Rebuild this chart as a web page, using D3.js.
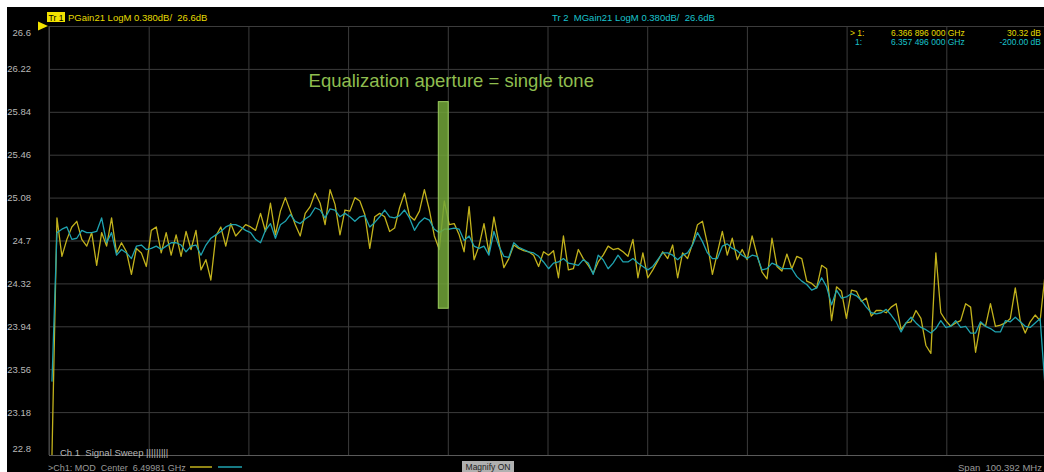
<!DOCTYPE html>
<html><head><meta charset="utf-8">
<script src="https://cdn.jsdelivr.net/npm/d3@7"></script>
<style>
html,body{margin:0;padding:0;background:#fff;}
svg{display:block;}
text{font-family:"Liberation Sans",Arial,sans-serif;}
</style></head><body>
<svg id="c" width="1044" height="472"></svg>
<script>
// ---- data ----
const yTickValues = [26.6, 26.22, 25.84, 25.46, 25.08, 24.7, 24.32, 23.94, 23.56, 23.18, 22.8];
const yTickLabels = ["26.6", "26.22", "25.84", "25.46", "25.08", "24.7", "24.32", "23.94", "23.56", "23.18", "22.8"];
const centerGHz = 6.49981;
const spanMHz = 100.392;
const sweepOffsetMHz = 0.3;
const sweepStepMHz = 0.5;
const tr1Label = "PGain21 LogM 0.380dB/  26.6dB";
const tr2Label = "MGain21 LogM 0.380dB/  26.6dB";
const markerRows = [
  {id: "> 1:", freq: "6.366 896 000 GHz", val: "30.32 dB"},
  {id: "1:", freq: "6.357 496 000 GHz", val: "-200.00 dB"}
];
const annotationText = "Equalization aperture = single tone";
const apertureMHz = [39.2, 40.2];
const apertureDb = [25.93, 24.10];

// Tr 1 (yellow, PGain21) in dB
const tr1Values = [
22.80,24.90,24.56,24.71,24.82,24.87,24.71,24.65,24.77,24.48,
24.77,24.65,24.90,24.59,24.68,24.60,24.40,24.63,24.59,24.47,
24.79,24.82,24.59,24.77,24.57,24.75,24.56,24.78,24.62,24.79,
24.44,24.53,24.35,24.74,24.82,24.65,24.85,24.74,24.79,24.84,
24.82,24.79,24.94,24.78,25.03,24.75,24.96,25.08,24.96,24.84,
24.74,24.94,25.00,25.12,25.03,24.84,25.15,25.02,24.75,24.97,
24.96,25.08,25.05,24.93,24.63,24.91,24.94,24.91,24.78,24.81,
24.99,25.12,24.92,24.88,24.96,25.15,24.97,24.74,24.62,25.05,
24.84,24.85,24.75,24.60,25.00,24.53,24.65,24.85,24.59,24.91,
24.68,24.46,24.54,24.66,24.63,24.61,24.60,24.57,24.47,24.60,
24.57,24.61,24.37,24.74,24.44,24.45,24.62,24.54,24.48,24.41,
24.51,24.57,24.65,24.62,24.63,24.60,24.56,24.71,24.37,24.59,
24.37,24.44,24.52,24.60,24.54,24.66,24.37,24.59,24.54,24.67,
24.84,24.87,24.67,24.40,24.59,24.78,24.57,24.72,24.53,24.62,
24.53,24.74,24.57,24.42,24.36,24.72,24.47,24.43,24.58,24.45,
24.56,24.54,24.34,24.32,24.28,24.48,24.45,23.99,24.29,24.25,
24.01,24.26,24.25,24.16,24.19,24.03,24.08,24.08,24.06,24.11,
24.14,23.91,23.97,23.98,24.08,24.01,23.77,23.70,24.59,24.06,
23.99,23.94,23.97,23.99,24.14,24.11,23.71,23.97,23.94,24.14,
23.94,23.95,23.97,24.01,24.28,23.99,23.88,23.98,24.04,23.99,
24.40
];
// Tr 2 (cyan, MGain21) in dB
const tr2Values = [
23.45,24.77,24.80,24.82,24.71,24.72,24.79,24.77,24.77,24.78,
24.90,24.68,24.77,24.57,24.62,24.59,24.54,24.65,24.66,24.62,
24.63,24.65,24.62,24.65,24.68,24.68,24.66,24.60,24.65,24.66,
24.57,24.66,24.72,24.75,24.78,24.82,24.84,24.84,24.82,24.79,
24.77,24.71,24.68,24.79,24.85,24.72,24.84,24.87,24.93,24.87,
24.85,24.89,24.92,24.99,24.97,24.90,24.98,24.97,24.91,24.94,
24.91,24.87,24.91,24.92,24.82,24.86,24.91,24.97,24.91,24.90,
24.92,24.97,24.90,24.79,24.86,24.90,24.88,24.80,24.77,24.80,
24.80,24.81,24.80,24.70,24.74,24.65,24.63,24.65,24.57,24.78,
24.65,24.56,24.55,24.68,24.64,24.62,24.60,24.59,24.56,24.51,
24.45,24.50,24.51,24.54,24.50,24.49,24.48,24.53,24.50,24.40,
24.57,24.53,24.45,24.50,24.57,24.51,24.51,24.54,24.50,24.47,
24.44,24.47,24.53,24.59,24.59,24.57,24.53,24.57,24.59,24.66,
24.77,24.69,24.59,24.54,24.54,24.65,24.67,24.63,24.61,24.57,
24.54,24.57,24.56,24.44,24.45,24.50,24.48,24.45,24.45,24.45,
24.38,24.34,24.31,24.26,24.28,24.37,24.29,24.13,24.26,24.19,
24.20,24.23,24.21,24.17,24.11,24.06,24.05,24.06,24.09,24.04,
23.98,23.89,23.97,24.02,23.97,23.93,23.91,23.88,23.92,23.99,
23.93,23.94,23.99,23.93,23.94,23.88,23.88,23.98,23.94,23.92,
23.89,23.89,23.99,23.98,24.02,23.98,23.94,23.93,23.97,24.01,
23.40
];

// ---- drawing ----
const svg = d3.select("#c");
const W = 1044, H = 472;
const plot = {left: 49, right: 1046, top: 26, bottom: 455};
const fStartMHz = centerGHz * 1000 - spanMHz / 2;
const fStopMHz = centerGHz * 1000 + spanMHz / 2;
const freqMHz = tr1Values.map((_, i) => fStartMHz + sweepOffsetMHz + i * sweepStepMHz);

const x = d3.scaleLinear().domain([fStartMHz, fStopMHz]).range([plot.left, plot.right]);
const y = d3.scaleLinear().domain([22.8, 26.6]).range([plot.bottom, plot.top]);

svg.append("rect").attr("x", 7).attr("y", 7).attr("width", W - 7).attr("height", H - 7).attr("fill", "#000");

// vertical grid
const xGridVals = d3.range(11).map(k => fStartMHz + k * spanMHz / 10);
const gx = svg.append("g").attr("transform", `translate(0,${plot.bottom})`)
  .call(d3.axisBottom(x).tickValues(xGridVals).tickSize(-(plot.bottom - plot.top)).tickFormat(""));
gx.select(".domain").remove();
gx.selectAll(".tick line").attr("stroke", "#3c3c3c").attr("stroke-width", 1);

// horizontal grid + labels
const gy = svg.append("g").attr("transform", `translate(${plot.left},0)`)
  .call(d3.axisLeft(y).tickValues(yTickValues).tickSize(-(plot.right - plot.left))
    .tickFormat((d, i) => yTickLabels[i]).tickPadding(18));
gy.select(".domain").remove();
gy.selectAll(".tick line").attr("stroke", (d, i) => (i === yTickValues.length - 1 ? "#5a5a5a" : "#3c3c3c")).attr("stroke-width", 1);
gy.selectAll(".tick text").attr("fill", "#b8b8b8").attr("font-size", 9.5)
  .attr("font-family", "Liberation Sans, Arial, sans-serif")
  .attr("dy", (d, i) => i === 0 ? "0.95em" : (i === yTickValues.length - 1 ? "-0.4em" : "0.32em"));
// left border
svg.append("line").attr("x1", plot.left).attr("x2", plot.left).attr("y1", plot.top).attr("y2", plot.bottom)
  .attr("stroke", "#4a4a4a");

// reference triangle
const yr = y(26.6);
svg.append("path").attr("d", `M38,${yr - 4.5}L48,${yr}L38,${yr + 4.5}Z`).attr("fill", "#f2e200");

// traces
const line = d3.line().x((d, i) => x(freqMHz[i])).y(d => y(d));
svg.append("path").datum(tr1Values).attr("d", line).attr("fill", "none")
  .attr("stroke", "#c2b21c").attr("stroke-width", 1.3).attr("stroke-linejoin", "round");
svg.append("path").datum(tr2Values).attr("d", line).attr("fill", "none")
  .attr("stroke", "#1fa3b0").attr("stroke-width", 1.3).attr("stroke-linejoin", "round");

// header
svg.append("rect").attr("x", 47).attr("y", 12).attr("width", 18).attr("height", 10).attr("fill", "#f2e200");
svg.append("text").attr("x", 56).attr("y", 20.5).attr("text-anchor", "middle").attr("font-size", 8.5).attr("fill", "#000")
  .attr("xml:space", "preserve").text("Tr 1");
svg.append("text").attr("x", 68).attr("y", 20.5).attr("font-size", 9.5).attr("fill", "#e6dc00")
  .attr("xml:space", "preserve").text(tr1Label);
svg.append("text").attr("x", 552).attr("y", 20.5).attr("font-size", 9.5).attr("fill", "#19c3cc")
  .attr("xml:space", "preserve").text("Tr 2  " + tr2Label);

// marker readout
const mColors = ["#e6dc00", "#19c3cc"];
markerRows.forEach((r, i) => {
  const yy = 36 + i * 9;
  svg.append("text").attr("x", i === 0 ? 850 : 855).attr("y", yy).attr("font-size", 8.5).attr("fill", mColors[i]).text(r.id);
  svg.append("text").attr("x", 891).attr("y", yy).attr("font-size", 8.5).attr("fill", mColors[i]).text(r.freq);
  svg.append("text").attr("x", 1041).attr("y", yy).attr("font-size", 8.5).attr("fill", mColors[i])
    .attr("text-anchor", "end").text(r.val);
});

// annotation
svg.append("text").attr("x", (x(fStartMHz + apertureMHz[0]) + x(fStartMHz + apertureMHz[1])) / 2 + 8).attr("y", 87)
  .attr("text-anchor", "middle").attr("font-size", 18.5).attr("fill", "#8fbd4f")
  .attr("font-family", "Liberation Sans, sans-serif").text(annotationText);
svg.append("rect")
  .attr("x", x(fStartMHz + apertureMHz[0])).attr("width", x(fStartMHz + apertureMHz[1]) - x(fStartMHz + apertureMHz[0]))
  .attr("y", y(apertureDb[0])).attr("height", y(apertureDb[1]) - y(apertureDb[0]))
  .attr("fill", "#72a638").attr("fill-opacity", 0.85).attr("stroke", "#9ccc5e").attr("stroke-width", 1);

// bottom texts
svg.append("text").attr("x", 60).attr("y", 456).attr("font-size", 9.5).attr("fill", "#b8b8b8")
  .attr("xml:space", "preserve").text("Ch 1  Signal Sweep |||||||||");
svg.append("text").attr("x", 48).attr("y", 471).attr("font-size", 9).attr("fill", "#9a9a9a")
  .attr("xml:space", "preserve").text(">Ch1: MOD  Center  " + centerGHz + " GHz");
svg.append("line").attr("x1", 190).attr("x2", 212).attr("y1", 467).attr("y2", 467).attr("stroke", "#c2b21c").attr("stroke-width", 1.5);
svg.append("line").attr("x1", 218).attr("x2", 242).attr("y1", 467).attr("y2", 467).attr("stroke", "#1fa3b0").attr("stroke-width", 1.5);
svg.append("rect").attr("x", 462).attr("y", 461).attr("width", 52).attr("height", 11).attr("fill", "#b0b0b0");
svg.append("text").attr("x", 488).attr("y", 470).attr("text-anchor", "middle").attr("font-size", 8.5).attr("fill", "#222").text("Magnify ON");
svg.append("text").attr("x", 1042).attr("y", 471).attr("text-anchor", "end").attr("font-size", 9.5).attr("fill", "#9a9a9a")
  .attr("xml:space", "preserve").text("Span  " + spanMHz + " MHz");
</script>
</body></html>
